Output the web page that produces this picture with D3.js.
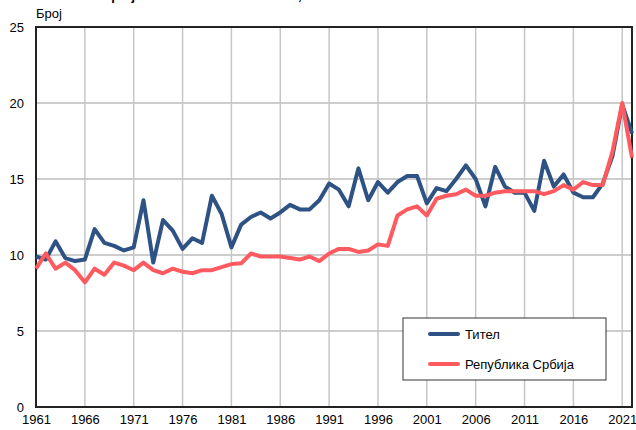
<!DOCTYPE html>
<html>
<head>
<meta charset="utf-8">
<script src="https://cdn.jsdelivr.net/npm/d3@7"></script>
<style>
  body { margin: 0; background: #fff; }
  text { font-family: "Liberation Sans", Arial, sans-serif; }
</style>
</head>
<body>
<svg width="636" height="430"></svg>
<script>
const svg = d3.select("svg");

const titleText = "Стопа живорођених на 1.000 становника, Тител";
const yLabel = "Број";

const years = d3.range(1961, 2023);
const titel = [
  9.9, 9.7, 10.9, 9.8, 9.6, 9.7, 11.7, 10.8, 10.6, 10.3,
  10.5, 13.6, 9.5, 12.3, 11.6, 10.4, 11.1, 10.8, 13.9, 12.7,
  10.5, 12.0, 12.5, 12.8, 12.4, 12.8, 13.3, 13.0, 13.0, 13.6,
  14.7, 14.3, 13.2, 15.7, 13.6, 14.8, 14.1, 14.8, 15.2, 15.2,
  13.4, 14.4, 14.2, 15.0, 15.9, 15.0, 13.2, 15.8, 14.5, 14.1,
  14.1, 12.9, 16.2, 14.5, 15.3, 14.1, 13.8, 13.8, 14.7, 16.5,
  19.9, 18.0
];
const srbija = [
  9.1, 10.1, 9.1, 9.5, 9.0, 8.2, 9.1, 8.7, 9.5, 9.3,
  9.0, 9.5, 9.0, 8.8, 9.1, 8.9, 8.8, 9.0, 9.0, 9.2,
  9.4, 9.45, 10.1, 9.9, 9.9, 9.9, 9.8, 9.7, 9.9, 9.6,
  10.1, 10.4, 10.4, 10.2, 10.3, 10.7, 10.6, 12.6, 13.0, 13.2,
  12.6, 13.7, 13.9, 14.0, 14.3, 13.9, 13.9, 14.1, 14.2, 14.2,
  14.2, 14.2, 14.0, 14.2, 14.6, 14.3, 14.8, 14.6, 14.6, 16.8,
  20.0, 16.4
];
const seriesNames = ["Тител", "Република Србија"];
const seriesColors = ["#2d5283", "#ff5a5f"];
const xTicks = d3.range(1961, 2022, 5);
const yTicks = [0, 5, 10, 15, 20, 25];

const plotLeft = 36, plotRight = 632, plotTop = 27, plotBottom = 407;

const x = d3.scaleLinear().domain([1961, 2022]).range([plotLeft, plotRight]);
const y = d3.scaleLinear().domain([0, 25]).range([plotBottom, plotTop]);

// title, mostly cut off at the top edge as in the original
svg.append("text")
    .attr("x", plotLeft)
    .attr("y", 0)
    .attr("font-size", 13)
    .attr("font-weight", "bold")
    .attr("fill", "#000")
    .text(titleText);

svg.append("text")
    .attr("x", plotLeft)
    .attr("y", 18)
    .attr("font-size", 13)
    .attr("fill", "#000")
    .text(yLabel);

// grid
svg.append("g")
    .selectAll("line").data(yTicks.slice(1, -1))
    .enter().append("line")
    .attr("x1", plotLeft).attr("x2", plotRight)
    .attr("y1", d => y(d)).attr("y2", d => y(d))
    .attr("stroke", "#bdbdbd").attr("stroke-width", 1.5);

svg.append("g")
    .selectAll("line").data(xTicks.slice(1))
    .enter().append("line")
    .attr("x1", d => x(d)).attr("x2", d => x(d))
    .attr("y1", plotTop).attr("y2", plotBottom)
    .attr("stroke", "#c6c6c6").attr("stroke-width", 1.5);

// axes
const xAxis = svg.append("g")
    .attr("transform", `translate(0,${plotBottom})`)
    .call(d3.axisBottom(x).tickValues(xTicks).tickFormat(d3.format("d")).tickSize(0).tickPadding(8));
xAxis.select(".domain").remove();
xAxis.selectAll("text").attr("font-size", 13).attr("fill", "#000")
    .attr("font-family", "'Liberation Sans', Arial, sans-serif");

const yAxis = svg.append("g")
    .attr("transform", `translate(${plotLeft},0)`)
    .call(d3.axisLeft(y).tickValues(yTicks).tickSize(0).tickPadding(12));
yAxis.select(".domain").remove();
yAxis.selectAll("text").attr("font-size", 13).attr("fill", "#000")
    .attr("font-family", "'Liberation Sans', Arial, sans-serif");

// frame
svg.append("rect")
    .attr("x", plotLeft).attr("y", plotTop)
    .attr("width", plotRight - plotLeft).attr("height", plotBottom - plotTop)
    .attr("fill", "none").attr("stroke", "#222").attr("stroke-width", 2);

// lines
const line = d3.line()
    .x((d, i) => x(years[i]))
    .y(d => y(d));

[titel, srbija].forEach((s, k) => {
    svg.append("path")
        .datum(s)
        .attr("d", line)
        .attr("fill", "none")
        .attr("stroke", seriesColors[k])
        .attr("stroke-width", 4)
        .attr("stroke-linejoin", "round");
});

// legend
const legend = svg.append("g").attr("transform", "translate(403,318)");
legend.append("rect")
    .attr("width", 203).attr("height", 62)
    .attr("fill", "#fff").attr("stroke", "#333").attr("stroke-width", 1);
seriesNames.forEach((name, k) => {
    const ly = 16 + k * 30;
    legend.append("line")
        .attr("x1", 27).attr("x2", 55)
        .attr("y1", ly).attr("y2", ly)
        .attr("stroke", seriesColors[k]).attr("stroke-width", 4)
        .attr("stroke-linecap", "round");
    legend.append("text")
        .attr("x", 62).attr("y", ly + 5)
        .attr("font-size", 13)
        .text(name);
});
</script>
</body>
</html>
